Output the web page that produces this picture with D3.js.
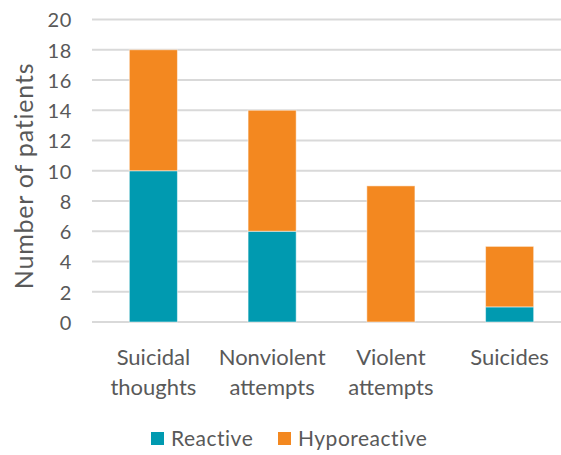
<!DOCTYPE html>
<html>
<head>
<meta charset="utf-8">
<script src="https://cdn.jsdelivr.net/npm/d3@7"></script>
<style>
  html, body { margin: 0; padding: 0; background: #fff; }
  svg { display: block; font-family: Lato, "Open Sans", sans-serif; }
</style>
</head>
<body>
<svg id="chart" width="561" height="455"></svg>
<script>
// Patient counts per outcome, split by reactivity group
const categories = [["Suicidal", "thoughts"], ["Nonviolent", "attempts"], ["Violent", "attempts"], ["Suicides"]];
const seriesNames = ["Reactive", "Hyporeactive"];
const reactive = [10, 6, 0, 1];
const hyporeactive = [8, 8, 9, 4];
const yTicks = [0, 2, 4, 6, 8, 10, 12, 14, 16, 18, 20];
const colors = ["#009AB0", "#F38820"];

const svg = d3.select("#chart");
const keys = categories.map(c => c.join(" "));
const rows = keys.map((k, i) => ({ key: k, Reactive: reactive[i], Hyporeactive: hyporeactive[i] }));
const stacked = d3.stack().keys(seriesNames)(rows);

const x = d3.scaleBand().domain(keys).range([94, 569]).paddingInner(0.595).paddingOuter(0.2975);
const y = d3.scaleLinear().domain([0, 20]).range([322, 19.5]);

// horizontal gridlines
svg.append("g")
  .selectAll("line")
  .data(yTicks)
  .join("line")
  .attr("x1", 92).attr("x2", 561)
  .attr("y1", d => y(d)).attr("y2", d => y(d))
  .attr("stroke", "#D9D9D9").attr("stroke-width", 2);

// y axis tick labels
const yAxis = d3.axisLeft(y).tickValues(yTicks).tickSize(0).tickPadding(0);
const yg = svg.append("g").attr("transform", "translate(72,1)").call(yAxis);
yg.select(".domain").remove();
yg.selectAll("text")
  .attr("font-size", 20).attr("letter-spacing", 0.6)
  .attr("fill", "#595959").attr("font-family", "Lato, sans-serif");

// stacked bars
svg.append("g")
  .selectAll("g")
  .data(stacked)
  .join("g")
  .attr("fill", (d, i) => colors[i])
  .selectAll("rect")
  .data(d => d)
  .join("rect")
  .attr("x", d => x(d.data.key))
  .attr("width", x.bandwidth())
  .attr("y", d => y(d[1]))
  .attr("height", d => y(d[0]) - y(d[1]))
  .attr("stroke", "#ffffff").attr("stroke-opacity", 0.5).attr("stroke-width", 1);

// category labels (two lines)
const xl = svg.append("g");
categories.forEach((lines, i) => {
  const cx = x(keys[i]) + x.bandwidth() / 2;
  const t = xl.append("text")
    .attr("x", cx)
    .attr("y", 365)
    .attr("text-anchor", "middle")
    .attr("font-size", 22)
    .attr("fill", "#595959");
  lines.forEach((ln, j) => {
    t.append("tspan").attr("x", cx).attr("dy", j === 0 ? 0 : 30).text(ln);
  });
});

// y axis title
svg.append("text")
  .attr("transform", "translate(33,176) rotate(-90)")
  .attr("text-anchor", "middle")
  .attr("font-size", 25)
  .attr("letter-spacing", 0.8)
  .attr("fill", "#595959")
  .text("Number of patients");

// legend
const legendItems = [{ name: seriesNames[0], x: 151 }, { name: seriesNames[1], x: 278 }];
const lg = svg.append("g");
legendItems.forEach((it, i) => {
  lg.append("rect").attr("x", it.x).attr("y", 432).attr("width", 13).attr("height", 13).attr("fill", colors[i]);
  lg.append("text").attr("x", it.x + 20).attr("y", 446).attr("font-size", 21)
    .attr("letter-spacing", 0.5).attr("fill", "#595959").text(it.name);
});
</script>
</body>
</html>
